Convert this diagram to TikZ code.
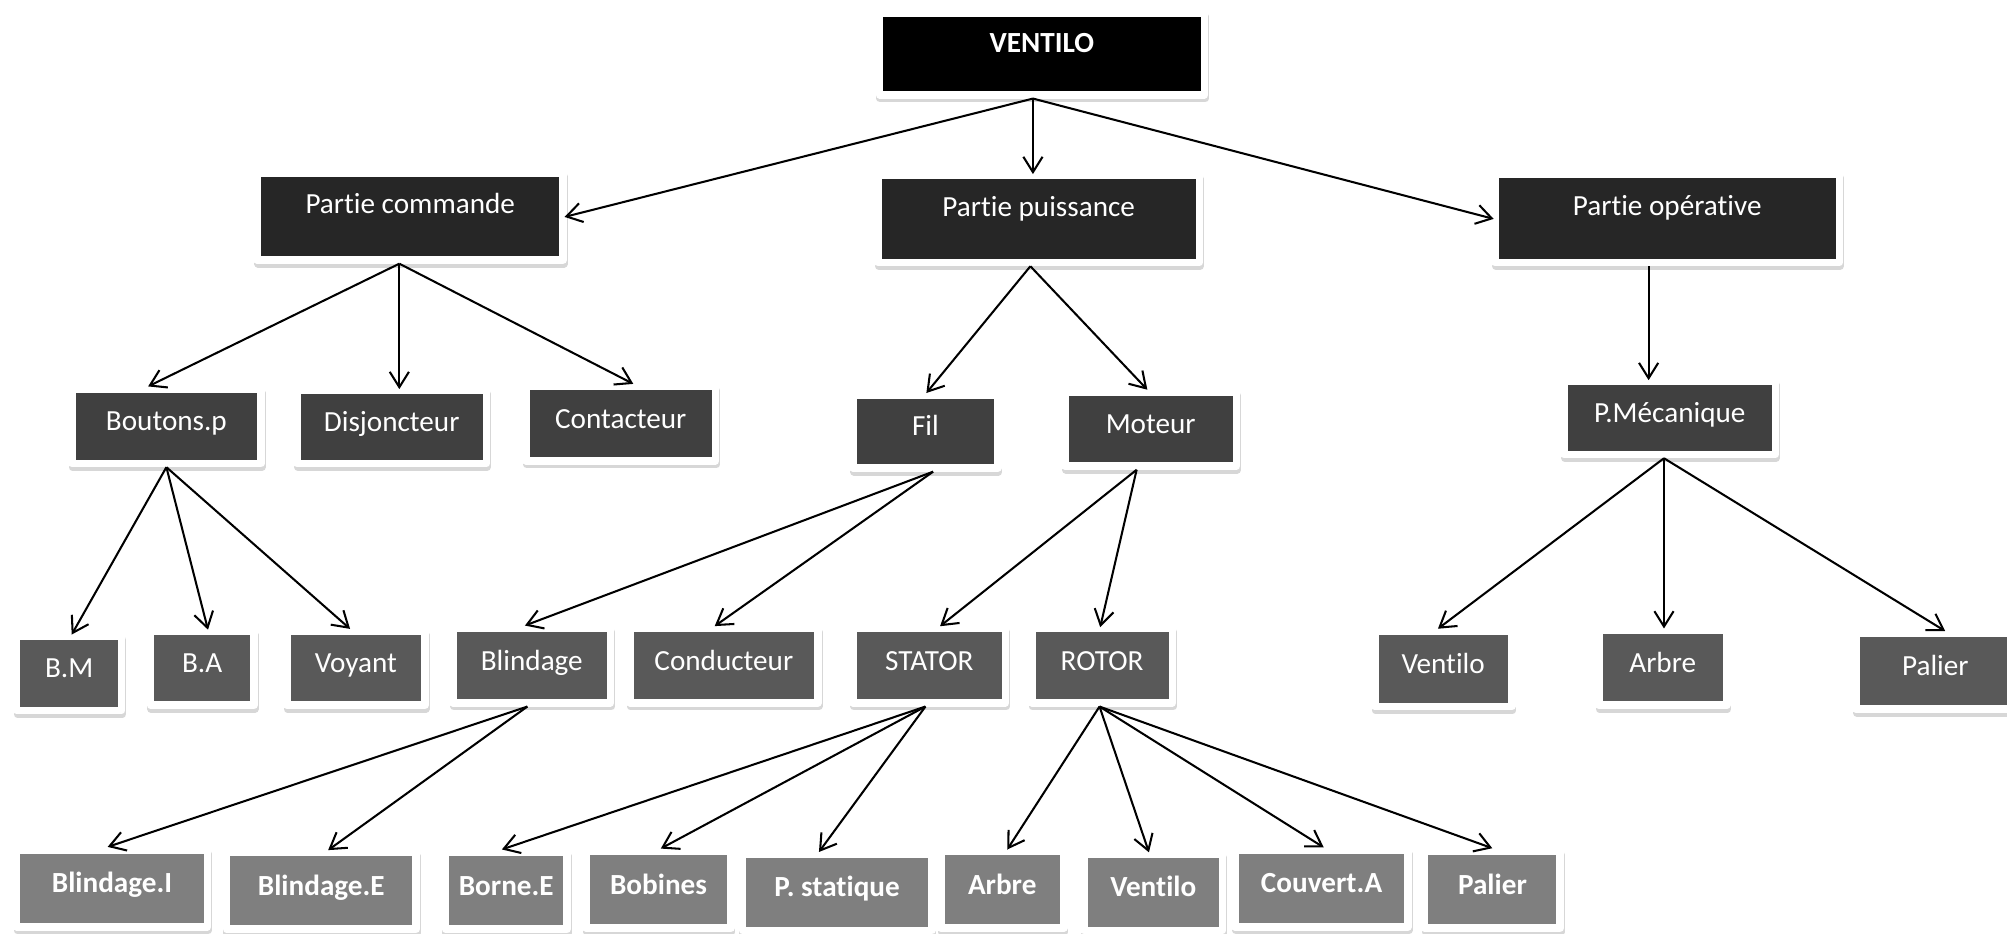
\documentclass[tikz,border=0pt]{standalone}
\usepackage{fontspec}
\setmainfont{Carlito}[Ligatures=NoCommon]
\usetikzlibrary{arrows.meta, shadows}
\definecolor{gristrois}{HTML}{262626}
\definecolor{grisquatre}{HTML}{404040}
\definecolor{griscinq}{HTML}{595959}
\definecolor{grissept}{HTML}{7F7F7F}
\newcommand{\taille}{\fontsize{11.4pt}{13pt}\selectfont}
\tikzstyle{boite} = [rectangle, draw=white, line width=3pt, line join=round, inner sep=0pt, text=white, font=\taille, text height=8pt, text depth=4.4pt, drop shadow={draw=black!45, fill=black!45, line width=3pt, opacity=0.35, shadow xshift=0.3pt, shadow yshift=-1.5pt}]
\tikzstyle{racine} = [boite, fill=black, font=\taille\bfseries, text depth=9pt]
\tikzstyle{partie} = [boite, fill=gristrois, text depth=10pt]
\tikzstyle{organe} = [boite, fill=grisquatre]
\tikzstyle{element} = [boite, fill=griscinq]
\tikzstyle{piece} = [boite, fill=grissept, font=\taille\bfseries]
\tikzstyle{fleche} = [-{Straight Barb[length=6pt,width=7.5pt]}, line width=0.8pt, shorten >=-1pt]

\begin{document}
\begin{tikzpicture}[x=0.5pt, y=-0.5pt]
	\useasboundingbox (0,0) rectangle (1568,729);
	\clip (0,0) rectangle (1568,729);
	% racine
	\node[racine, minimum width=127pt, minimum height=32pt] (ventilo) at (814,42) {VENTILO};
	% parties
	\node[partie, minimum width=119.5pt, minimum height=34pt] (commande) at (320.5,169) {Partie commande};
	\node[partie, minimum width=125.5pt, minimum height=34pt] (puissance) at (811.5,171) {Partie puissance};
	\node[partie, minimum width=134.5pt, minimum height=34.5pt] (operative) at (1302.5,170.5) {Partie opérative};
	% organes
	\node[organe, minimum width=74pt, minimum height=29pt] (boutons) at (130,333) {Boutons.p};
	\node[organe, minimum width=74pt, minimum height=28.5pt] (disjoncteur) at (306,333.5) {Disjoncteur};
	\node[organe, minimum width=74pt, minimum height=29pt] (contacteur) at (485,331) {Contacteur};
	\node[organe, minimum width=56.5pt, minimum height=28.5pt] (fil) at (723,337) {Fil};
	\node[organe, minimum width=67pt, minimum height=29pt] (moteur) at (899,335) {Moteur};
	\node[organe, minimum width=82.5pt, minimum height=28.5pt] (mecanique) at (1304.5,326.5) {P.Mécanique};
	% elements
	\node[element, minimum width=41pt, minimum height=29pt] (bm) at (54,526) {B.M};
	\node[element, minimum width=40.5pt, minimum height=29pt] (ba) at (158,522) {B.A};
	\node[element, minimum width=54pt, minimum height=29pt] (voyant) at (278,522) {Voyant};
	\node[element, minimum width=61.5pt, minimum height=29pt] (blindage) at (415.5,520) {Blindage};
	\node[element, minimum width=73.5pt, minimum height=29pt] (conducteur) at (565.5,520) {Conducteur};
	\node[element, minimum width=59.5pt, minimum height=29pt] (stator) at (726,520) {STATOR};
	\node[element, minimum width=55pt, minimum height=29pt] (rotor) at (861,520) {ROTOR};
	\node[element, minimum width=53.5pt, minimum height=29.5pt] (ventiloM) at (1127.5,522.5) {Ventilo};
	\node[element, minimum width=50pt, minimum height=29.5pt] (arbreM) at (1299,521.5) {Arbre};
	\node[element, minimum width=62pt, minimum height=29.5pt] (palierM) at (1512,524.5) {Palier};
	% pieces
	\node[piece, minimum width=74.5pt, minimum height=30pt] (blindageI) at (87.5,694) {Blindage.I};
	\node[piece, minimum width=74pt, minimum height=30pt] (blindageE) at (251,696) {Blindage.E};
	\node[piece, minimum width=47.5pt, minimum height=30pt] (borne) at (395.5,696) {Borne.E};
	\node[piece, minimum width=56.5pt, minimum height=30pt] (bobines) at (514.5,695) {Bobines};
	\node[piece, minimum width=74pt, minimum height=30pt] (statique) at (654,697) {P. statique};
	\node[piece, minimum width=48pt, minimum height=30pt] (arbreR) at (783,695) {Arbre};
	\node[piece, minimum width=54pt, minimum height=30pt] (ventiloR) at (901,697) {Ventilo};
	\node[piece, minimum width=67.5pt, minimum height=30pt] (couvert) at (1032.5,694) {Couvert.A};
	\node[piece, minimum width=53pt, minimum height=30pt] (palierR) at (1166,695) {Palier};

	% fleches
	\draw[fleche] ([xshift=-3.5pt]ventilo.south) -- (commande.east);
	\draw[fleche] ([xshift=-3.5pt]ventilo.south) -- ([xshift=-3.5pt]ventilo.south |- puissance.north);
	\draw[fleche] ([xshift=-3.5pt]ventilo.south) -- (operative.west);
	\draw[fleche] ([xshift=-4.25pt]commande.south) -- ([xshift=-6.25pt]boutons.north);
	\draw[fleche] ([xshift=-4.25pt]commande.south) -- ([xshift=-4.25pt]commande.south |- disjoncteur.north);
	\draw[fleche] ([xshift=-4.25pt]commande.south) -- ([xshift=4pt]contacteur.north);
	\draw[fleche] ([xshift=-3.25pt]puissance.south) -- ([xshift=1pt]fil.north);
	\draw[fleche] ([xshift=-3.25pt]puissance.south) -- ([xshift=-2pt]moteur.north);
	\draw[fleche] ([xshift=-7.25pt]operative.south) -- ([xshift=-7.25pt]operative.south |- mecanique.north);
	\draw[fleche] (boutons.south) -- ([xshift=1.5pt]bm.north);
	\draw[fleche] (boutons.south) -- ([xshift=2pt]ba.north);
	\draw[fleche] (boutons.south) -- ([xshift=-3pt]voyant.north);
	\draw[fleche] ([xshift=3pt]fil.south) -- ([xshift=-1.75pt]blindage.north);
	\draw[fleche] ([xshift=3pt]fil.south) -- ([xshift=-2.75pt]conducteur.north);
	\draw[fleche] ([xshift=-5.5pt]moteur.south) -- ([xshift=5pt]stator.north);
	\draw[fleche] ([xshift=-5.5pt]moteur.south) -- ([xshift=-0.5pt]rotor.north);
	\draw[fleche] ([xshift=-2.25pt]mecanique.south) -- ([xshift=-1.25pt]ventiloM.north);
	\draw[fleche] ([xshift=-2.25pt]mecanique.south) -- ([xshift=-2.25pt]mecanique.south |- arbreM.north);
	\draw[fleche] ([xshift=-2.25pt]mecanique.south) -- ([xshift=3pt]palierM.north);
	\draw[fleche] ([xshift=-1.75pt]blindage.south) -- ([xshift=-0.75pt]blindageI.north);
	\draw[fleche] ([xshift=-1.75pt]blindage.south) -- ([xshift=3.5pt]blindageE.north);
	\draw[fleche] ([xshift=-1.5pt]stator.south) -- ([xshift=-0.75pt]borne.north);
	\draw[fleche] ([xshift=-1.5pt]stator.south) -- ([xshift=1.75pt]bobines.north);
	\draw[fleche] ([xshift=-1.5pt]stator.south) -- ([xshift=-6.5pt]statique.north);
	\draw[fleche] ([xshift=-1pt]rotor.south) -- ([xshift=2.5pt]arbreR.north);
	\draw[fleche] ([xshift=-1pt]rotor.south) -- ([xshift=-2pt]ventiloR.north);
	\draw[fleche] ([xshift=-1pt]rotor.south) -- (couvert.north);
	\draw[fleche] ([xshift=-1pt]rotor.south) -- ([xshift=-1pt]palierR.north);
\end{tikzpicture}
\end{document}
